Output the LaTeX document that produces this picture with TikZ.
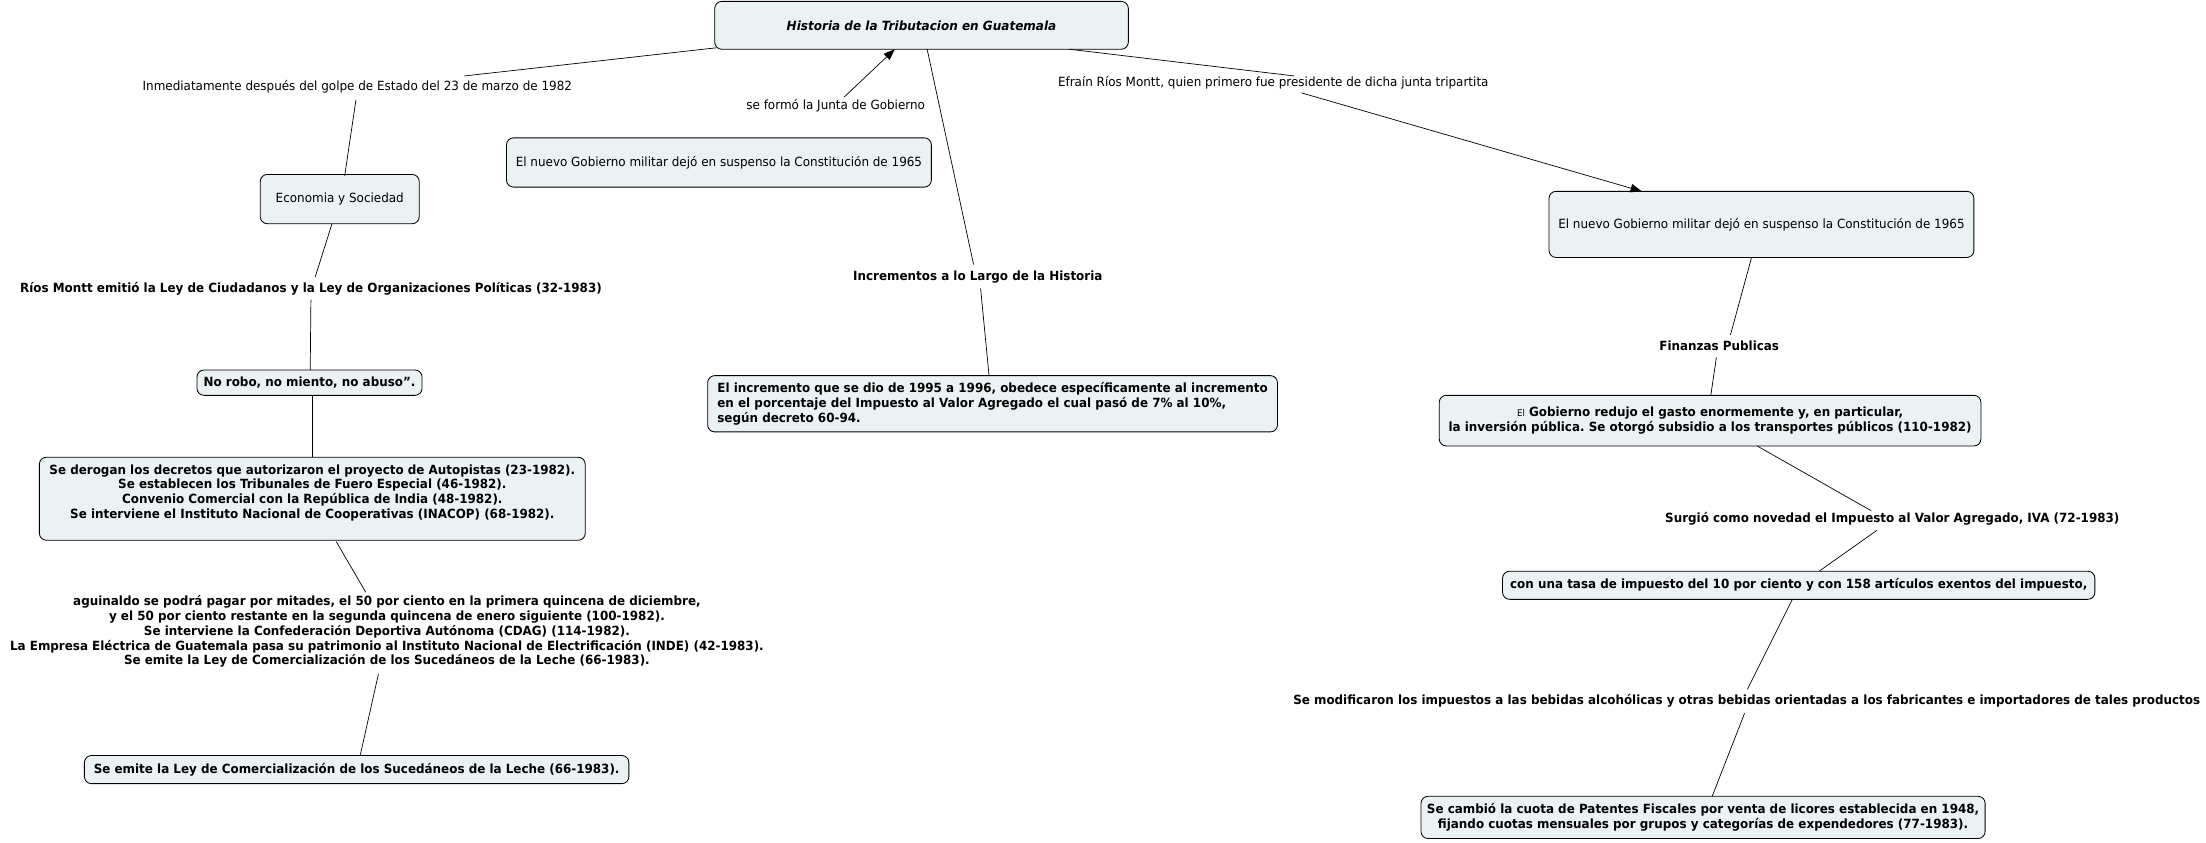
\documentclass[tikz,border=0pt]{standalone}
\usepackage{fontspec}
\setmainfont{DejaVu Sans}[FakeStretch=0.945, BoldFeatures={FakeStretch=0.942}, BoldItalicFeatures={FakeStretch=0.95}]
\usetikzlibrary{arrows.meta}
\definecolor{boxfill}{RGB}{235,242,244}
\frenchspacing
\tikzset{
  box/.style={draw=black, rounded corners=5pt, fill=boxfill, line width=0.6pt, inner sep=0pt, align=center},
  lbl/.style={inner sep=1pt, align=center},
  conn/.style={draw=black, line width=0.5pt},
  arr/.style={conn, -{Triangle[length=8pt,width=6pt]}},
  txt/.style={font=\fontsize{9}{10.5}\selectfont},
  btxt/.style={font=\fontsize{9}{10.5}\selectfont\bfseries}
}
\begin{document}
\begin{tikzpicture}[x=1pt,y=-1pt]
\useasboundingbox (0,0) rectangle (1568,598.5);
% nodes
\node[box, btxt, minimum width=294pt, minimum height=34pt] (title) at (655,18) {\textit{Historia de la Tributacion en Guatemala}};
\node[lbl, txt] (inm) at (254,62) {Inmediatamente después del golpe de Estado del 23 de marzo de 1982};
\node[box, txt, minimum width=113pt, minimum height=35pt] (eco) at (241.5,141.5) {Economia y Sociedad};
\node[lbl, btxt] (rios) at (221,205) {Ríos Montt emitió la Ley de Ciudadanos y la Ley de Organizaciones Políticas (32-1983)};
\node[box, btxt, minimum width=160pt, minimum height=18pt] (norobo) at (220,272) {No robo, no miento, no abuso”.};
\node[box, btxt, minimum width=388pt, minimum height=59pt] (derogan) at (222,354.5) {Se derogan los decretos que autorizaron el proyecto de Autopistas (23-1982).\\Se establecen los Tribunales de Fuero Especial (46-1982).\\Convenio Comercial con la República de India (48-1982).\\ Se interviene el Instituto Nacional de Cooperativas (INACOP) (68-1982).\\ ~};
\node[lbl, btxt] (agui) at (275,449) {aguinaldo se podrá pagar por mitades, el 50 por ciento en la primera quincena de diciembre,\\y el 50 por ciento restante en la segunda quincena de enero siguiente (100-1982).\\Se interviene la Confederación Deportiva Autónoma (CDAG) (114-1982).\\La Empresa Eléctrica de Guatemala pasa su patrimonio al Instituto Nacional de Electrificación (INDE) (42-1983).\\Se emite la Ley de Comercialización de los Sucedáneos de la Leche (66-1983).};
\node[box, btxt, minimum width=387pt, minimum height=20pt] (emite) at (253.5,547) {Se emite la Ley de Comercialización de los Sucedáneos de la Leche (66-1983).};
\node[lbl, txt] (junta) at (594,75) {se formó la Junta de Gobierno};
\node[box, txt, minimum width=302pt, minimum height=35pt] (nuevo1) at (511,115.5) {El nuevo Gobierno militar dejó en suspenso la Constitución de 1965};
\node[lbl, btxt] (incr) at (695,197) {Incrementos a lo Largo de la Historia};
\node[box, btxt, align=left, minimum width=405pt, minimum height=40pt] (incbox) at (705.5,287) {El incremento que se dio de 1995 a 1996, obedece específicamente al incremento\\en el porcentaje del Impuesto al Valor Agregado el cual pasó de 7\% al 10\%,\\según decreto 60-94.};
\node[lbl, txt] (efrain) at (905,59) {Efraín Ríos Montt, quien primero fue presidente de dicha junta tripartita};
\node[box, txt, minimum width=302pt, minimum height=47pt] (nuevo2) at (1252,159.5) {El nuevo Gobierno militar dejó en suspenso la Constitución de 1965};
\node[lbl, btxt] (finz) at (1222,246) {Finanzas Publicas};
\node[box, btxt, minimum width=385pt, minimum height=36pt] (gob) at (1215.5,299) {{\fontsize{6.5}{7}\selectfont\mdseries El} Gobierno redujo el gasto enormemente y, en particular,\\la inversión pública. Se otorgó subsidio a los transportes públicos (110-1982)};
\node[lbl, btxt] (surg) at (1345,369) {Surgió como novedad el Impuesto al Valor Agregado, IVA (72-1983)};
\node[box, btxt, minimum width=421pt, minimum height=20pt] (tasa) at (1278.5,416) {con una tasa de impuesto del 10 por ciento y con 158 artículos exentos del impuesto,};
\node[lbl, btxt] (semod) at (1241.5,498) {Se modificaron los impuestos a las bebidas alcohólicas y otras bebidas orientadas a los fabricantes e importadores de tales productos};
\node[box, btxt, minimum width=401pt, minimum height=30pt] (patent) at (1210.5,581) {Se cambió la cuota de Patentes Fiscales por venta de licores establecida en 1948,\\ fijando cuotas mensuales por grupos y categorías de expendedores (77-1983).};
% connectors
\draw[conn] ([shift={(-146,16)}]title.center) -- ([shift={(76,-8)}]inm.center);
\draw[conn] ([shift={(-1,9)}]inm.center) -- ([shift={(3.5,-16.5)}]eco.center);
\draw[conn] ([shift={(-5.5,17.5)}]eco.center) -- ([shift={(3,-8)}]rios.center);
\draw[conn] ([shift={(0,8)}]rios.center) -- ([shift={(0.5,-9)}]norobo.center);
\draw[conn] ([shift={(2,9)}]norobo.center) -- ([shift={(0,-29.5)}]derogan.center);
\draw[conn] ([shift={(17,30.5)}]derogan.center) -- ([shift={(-15,-28)}]agui.center);
\draw[conn] ([shift={(-6,30)}]agui.center) -- ([shift={(2.5,-10)}]emite.center);
\draw[arr] ([shift={(6,-6)}]junta.center) -- ([shift={(-19,17)}]title.center);
\draw[conn] ([shift={(4,17)}]title.center) -- ([shift={(-3,-9)}]incr.center);
\draw[conn] ([shift={(2,8)}]incr.center) -- ([shift={(-2.5,-20)}]incbox.center);
\draw[conn] ([shift={(105,17)}]title.center) -- ([shift={(15,-5)}]efrain.center);
\draw[arr] ([shift={(20,7)}]efrain.center) -- ([shift={(-85,-23.5)}]nuevo2.center);
\draw[conn] ([shift={(-7,23.5)}]nuevo2.center) -- ([shift={(8,-8)}]finz.center);
\draw[conn] ([shift={(-2,8)}]finz.center) -- ([shift={(0.5,-18)}]gob.center);
\draw[conn] ([shift={(33.5,18)}]gob.center) -- ([shift={(-15,-6)}]surg.center);
\draw[conn] ([shift={(-11,8)}]surg.center) -- ([shift={(14.5,-10)}]tasa.center);
\draw[conn] ([shift={(-4.5,10)}]tasa.center) -- ([shift={(0.5,-8)}]semod.center);
\draw[conn] ([shift={(-1.5,9)}]semod.center) -- ([shift={(6.5,-15)}]patent.center);
\end{tikzpicture}
\end{document}
